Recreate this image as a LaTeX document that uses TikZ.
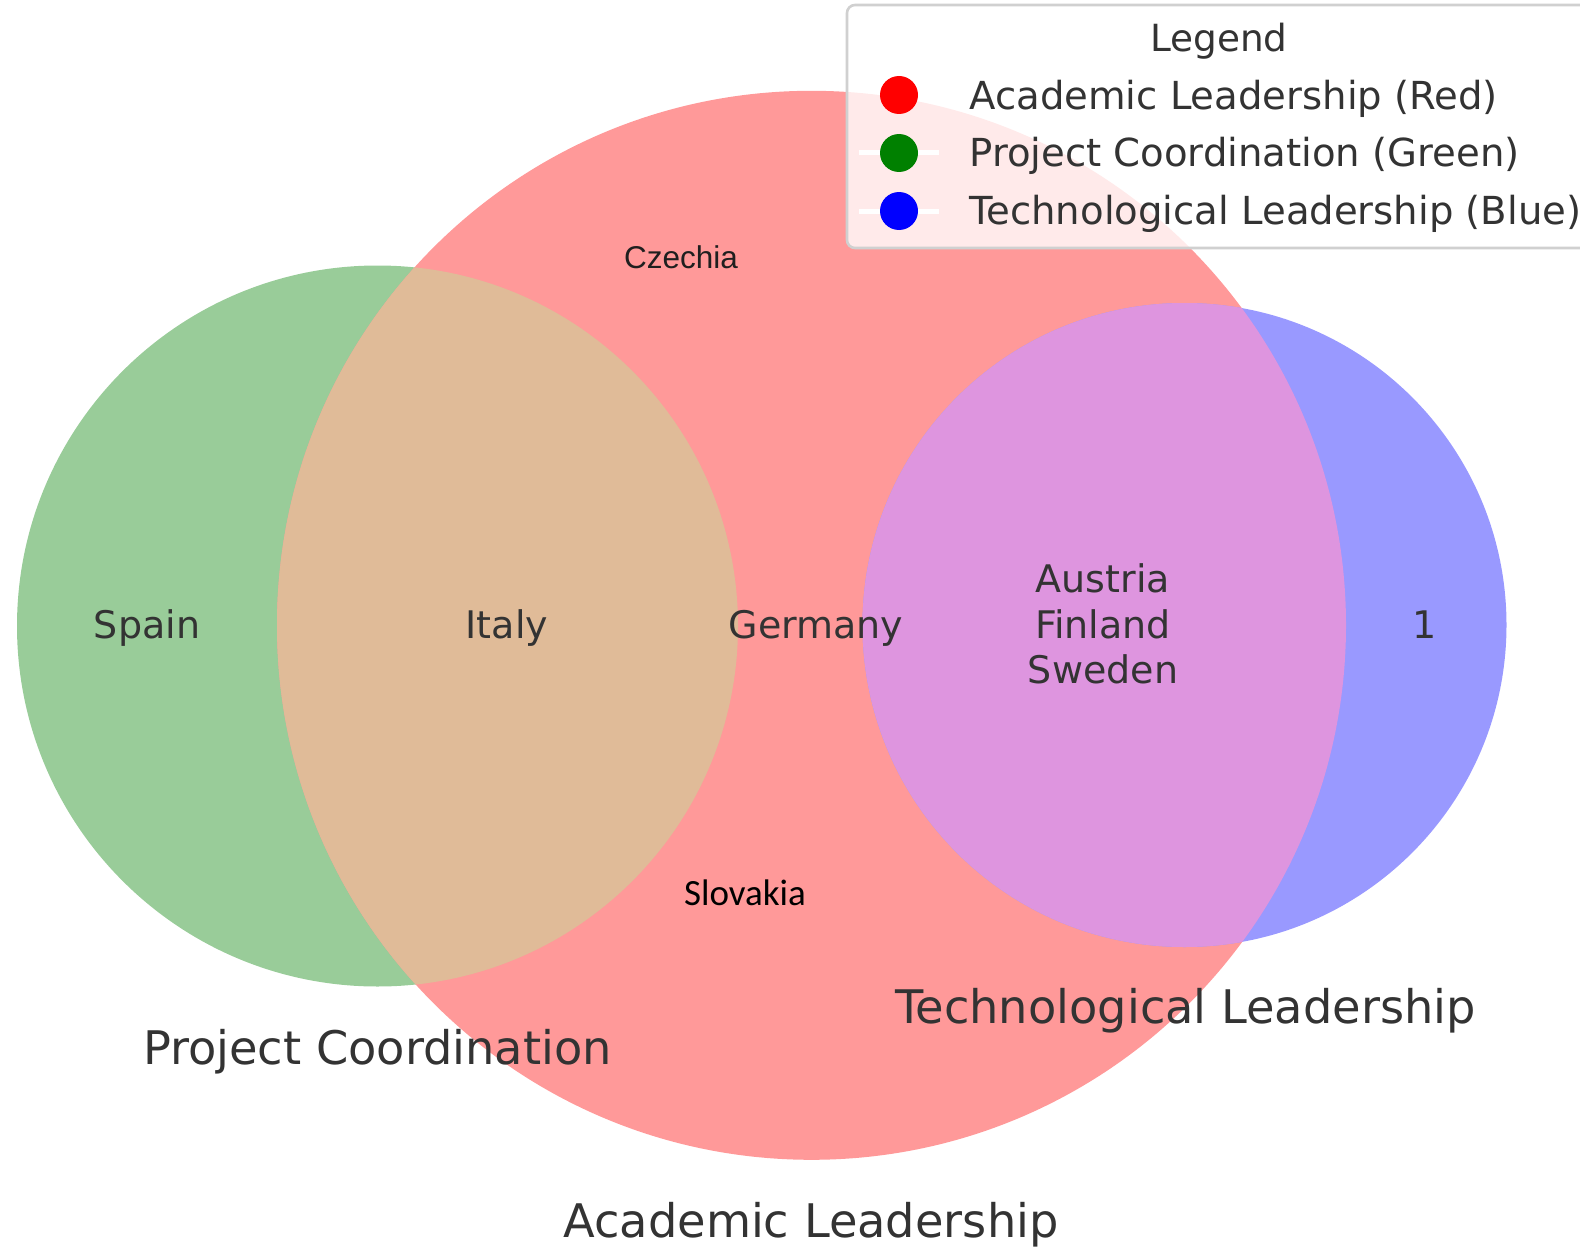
\documentclass[tikz,border=0pt]{standalone}
\usepackage{fontspec}
\setmainfont{DejaVu Sans}
\newfontfamily\arialfont{Liberation Sans}
\newfontfamily\calibrifont{Carlito}

\definecolor{setgreen}{RGB}{153,204,153}
\definecolor{setred}{RGB}{255,153,153}
\definecolor{setblue}{RGB}{153,153,255}
\definecolor{redgreen}{RGB}{224,187,152}
\definecolor{redblue}{RGB}{222,149,223}
\definecolor{labelgray}{RGB}{51,51,51}
\definecolor{frame}{RGB}{208,208,208}
\definecolor{mkgreen}{RGB}{0,128,0}

\begin{document}
\begin{tikzpicture}[x=0.5pt,y=-0.5pt,
  region/.style={text=labelgray, font=\fontsize{19}{22}\selectfont, anchor=base, inner sep=0pt},
  setname/.style={text=labelgray, font=\fontsize{23.15}{27}\selectfont, anchor=base, inner sep=0pt},
  legtext/.style={text=labelgray, font=\fontsize{19.3}{23}\selectfont, anchor=base west, inner sep=0pt},
  legline/.style={white, line width=2.5pt},
  marker/.style={inner sep=0pt, minimum size=19pt, circle}]
\useasboundingbox (0,0) rectangle (1580,1247);

% the three sets
\fill[setgreen] (377.5,626) circle (180.25pt);
\fill[setred] (811.5,625.3) circle (267.25pt);
\fill[setblue] (1184.5,625) circle (161pt);

% overlaps with the Academic Leadership set
\begin{scope}
  \clip (811.5,625.3) circle (267.25pt);
  \fill[redgreen] (377.5,626) circle (180.25pt);
  \fill[redblue] (1184.5,625) circle (161pt);
\end{scope}

% region contents
\node[region] (spain) at (147,638) {Spain};
\node[region] (italy) at (507,638) {Italy};
\node[region] (germany) at (816,638) {Germany};
\node[region] (austria) at (1103,592.5) {Austria};
\node[region] (finland) at (1103,638) {Finland};
\node[region] (sweden) at (1103,683.5) {Sweden};
\node[region] (one) at (1425,638) {1};
\node[anchor=base, inner sep=0pt, text=black!88, font=\arialfont\fontsize{15.75}{19}\selectfont] (czechia) at (681,268) {Czechia};
\node[anchor=base, inner sep=0pt, text=black, font=\calibrifont\fontsize{18.5}{22}\selectfont] (slovakia) at (745,905) {Slovakia};

% set names
\node[setname] (pcname) at (377.5,1064) {Project Coordination};
\node[setname] (tlname) at (1185.5,1023) {Technological Leadership};
\node[setname] (alname) at (811,1237) {Academic Leadership};

% legend
\draw[rounded corners=4pt, draw=frame, line width=1.3pt, fill=white, fill opacity=0.8] (847,5) rectangle (1610,248);
\node[text=labelgray, font=\fontsize{18.7}{22}\selectfont, anchor=base, inner sep=0pt] (legtitle) at (1219,52) {Legend};
\coordinate (l2a) at (859,153); \coordinate (l2b) at (939,153);
\coordinate (l3a) at (859,211); \coordinate (l3b) at (939,211);
\draw[legline] (l2a) -- (l2b);
\draw[legline] (l3a) -- (l3b);
\node[marker, fill=red] (mred) at (899,95) {};
\node[marker, fill=mkgreen] (mgreen) at (899,153) {};
\node[marker, fill=blue] (mblue) at (899,211) {};
\node[legtext] (leg1) at (969,110) {Academic Leadership (Red)};
\node[legtext] (leg2) at (969,167) {Project Coordination (Green)};
\node[legtext] (leg3) at (969,224) {Technological Leadership (Blue)};
\end{tikzpicture}
\end{document}
